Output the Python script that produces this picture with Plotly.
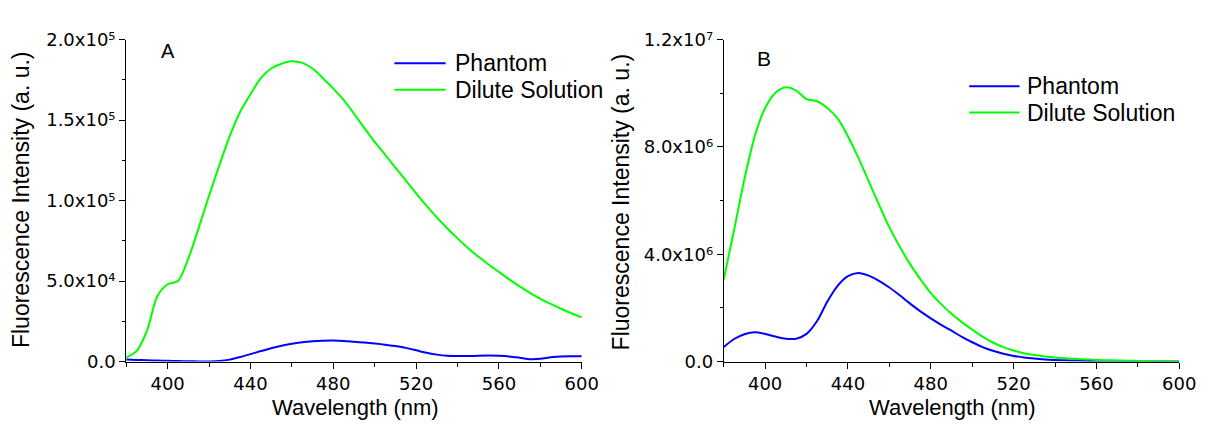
import plotly.graph_objects as go

# Emission wavelength grid (nm)
wavelength = list(range(380, 601, 5))

# Panel A: fluorescence intensity (a. u.)
phantom_a = [1200, 1000, 800, 600, 500, 300, 200, 100, 100, 300,
             1200, 2800, 4600, 6500, 8300, 9800, 11000, 12000, 12600, 12900,
             13000, 12800, 12300, 11800, 11200, 10500, 9600, 8500, 7000, 5400,
             4300, 3600, 3400, 3400, 3600, 3700, 3600, 3200, 2400, 1500,
             1700, 2600, 3200, 3300, 3300]
dilute_a = [2500, 6500, 19000, 40500, 48000, 50000, 64000, 83000, 103000, 122000,
            140000, 155000, 166000, 176000, 182000, 185000, 186500, 185500, 182000, 176000,
            169500, 162500, 154000, 145000, 136500, 128500, 120500, 112500, 104500, 96800,
            89500, 82800, 76500, 70600, 65200, 60300, 55600, 51000, 46700, 42700,
            39000, 35800, 32800, 30000, 27500]

# Panel B: fluorescence intensity (a. u.)
phantom_b = [0.54e6, 0.84e6, 1.02e6, 1.09e6, 1.03e6, 0.93e6, 0.85e6, 0.85e6, 1.03e6, 1.50e6,
             2.23e6, 2.82e6, 3.18e6, 3.30e6, 3.20e6, 3.01e6, 2.76e6, 2.47e6, 2.16e6, 1.87e6,
             1.61e6, 1.37e6, 1.15e6, 0.92e6, 0.72e6, 0.54e6, 0.40e6, 0.29e6, 0.21e6, 0.15e6,
             0.11e6, 0.08e6, 0.06e6, 0.045e6, 0.035e6, 0.025e6, 0.02e6, 0.015e6, 0.012e6, 0.01e6,
             0.008e6, 0.006e6, 0.005e6, 0.004e6, 0.003e6]
dilute_b = [3.06e6, 4.90e6, 6.80e6, 8.40e6, 9.45e6, 10.02e6, 10.22e6, 10.10e6, 9.78e6, 9.70e6,
            9.45e6, 9.06e6, 8.39e6, 7.60e6, 6.72e6, 5.84e6, 5.00e6, 4.28e6, 3.63e6, 3.06e6,
            2.55e6, 2.14e6, 1.78e6, 1.47e6, 1.19e6, 0.93e6, 0.71e6, 0.54e6, 0.41e6, 0.31e6,
            0.24e6, 0.19e6, 0.15e6, 0.12e6, 0.10e6, 0.08e6, 0.06e6, 0.05e6, 0.04e6, 0.03e6,
            0.025e6, 0.02e6, 0.015e6, 0.012e6, 0.01e6]

series_names = ["Phantom", "Dilute Solution"]
series_colors = ["#0000ff", "#00ff00"]

# Axis ticks
x_ticks = [400, 440, 480, 520, 560, 600]
x_ticktext = ["400", "440", "480", "520", "560", "600"]
ya_ticks = [0, 5e4, 1e5, 1.5e5, 2e5]
ya_ticktext = ["0.0", "5.0x10⁴", "1.0x10⁵", "1.5x10⁵", "2.0x10⁵"]
yb_ticks = [0, 4e6, 8e6, 1.2e7]
yb_ticktext = ["0.0", "4.0x10⁶", "8.0x10⁶", "1.2x10⁷"]

W, H = 1215, 431
TICK_FONT = dict(family="DejaVu Sans", size=18, color="black")
TEXT_FONT = "Liberation Sans, Arial, sans-serif"

fig = go.Figure()

for ys, name, color in zip([phantom_a, dilute_a], series_names, series_colors):
    fig.add_trace(go.Scatter(x=wavelength, y=ys, name=name, mode="lines",
                             line=dict(color=color, width=2, shape="spline", smoothing=0.8),
                             xaxis="x", yaxis="y", showlegend=False))
for ys, name, color in zip([phantom_b, dilute_b], series_names, series_colors):
    fig.add_trace(go.Scatter(x=wavelength, y=ys, name=name, mode="lines",
                             line=dict(color=color, width=2, shape="spline", smoothing=0.8),
                             xaxis="x2", yaxis="y2", showlegend=False))


def px_x(p):
    return p / W


def px_y(p):
    return 1 - p / H


y_domain = [px_y(368.5), px_y(30)]

common_x = dict(range=[380, 600], tickmode="array", tickvals=x_ticks, ticktext=x_ticktext,
                ticks="outside", ticklen=6, tickwidth=1, tickcolor="black",
                showline=True, linecolor="black", linewidth=1, showgrid=False,
                zeroline=False, tickfont=TICK_FONT,
                minor=dict(tickmode="linear", tick0=380, dtick=20, ticks="outside",
                           ticklen=4, tickcolor="black", showgrid=False))
common_y = dict(ticks="outside", ticklen=6, tickwidth=1, tickcolor="black",
                showline=True, linecolor="black", linewidth=1, showgrid=False,
                zeroline=False, tickfont=TICK_FONT, tickmode="array")

fig.update_layout(
    width=W, height=H,
    margin=dict(l=0, r=0, t=0, b=0),
    paper_bgcolor="white", plot_bgcolor="white",
    xaxis=dict(domain=[px_x(128), px_x(590)], anchor="y", **common_x),
    yaxis=dict(domain=y_domain, anchor="x", range=[0, 2e5],
               tickvals=ya_ticks, ticktext=ya_ticktext,
               minor=dict(tickmode="linear", tick0=0, dtick=2.5e4, ticks="outside",
                          ticklen=3, tickcolor="black", showgrid=False),
               **common_y),
    xaxis2=dict(domain=[px_x(734), px_x(1196)], anchor="y2", **common_x),
    yaxis2=dict(domain=y_domain, anchor="x2", range=[0, 1.2e7],
                tickvals=yb_ticks, ticktext=yb_ticktext,
                minor=dict(tickmode="linear", tick0=0, dtick=2e6, ticks="outside",
                           ticklen=3, tickcolor="black", showgrid=False),
                **common_y),
    showlegend=False,
)

annotations = []
shapes = []

# Axis titles
for xc in (361, 966):
    annotations.append(dict(text="Wavelength (nm)", x=px_x(xc), y=px_y(417), xref="paper",
                            yref="paper", showarrow=False, xanchor="center", yanchor="middle",
                            font=dict(family=TEXT_FONT, size=22, color="black")))
for xc, yc in ((22, 198), (630, 201)):
    annotations.append(dict(text="Fluorescence Intensity (a. u.)", x=px_x(xc), y=px_y(yc),
                            xref="paper", yref="paper", showarrow=False, textangle=-90,
                            xanchor="center", yanchor="middle",
                            font=dict(family=TEXT_FONT, size=23, color="black")))

# Panel letters
for label, xc, yc, size in (("A", 170, 42, 20), ("B", 775, 50, 21)):
    annotations.append(dict(text=label, x=px_x(xc), y=px_y(yc), xref="paper", yref="paper",
                            showarrow=False, xanchor="center", yanchor="middle",
                            font=dict(family=TEXT_FONT, size=size, color="black")))

# Legends, one per panel
for x0, x1, xt, y0 in ((400, 452, 459, 55), (983, 1034, 1040, 79)):
    for i, (name, color) in enumerate(zip(series_names, series_colors)):
        yy = y0 + i * 27.7
        shapes.append(dict(type="line", xref="paper", yref="paper",
                           x0=px_x(x0), x1=px_x(x1), y0=px_y(yy), y1=px_y(yy),
                           line=dict(color=color, width=2)))
        annotations.append(dict(text=name, x=px_x(xt), y=px_y(yy), xref="paper",
                                yref="paper", showarrow=False, xanchor="left",
                                yanchor="middle",
                                font=dict(family=TEXT_FONT, size=23, color="black")))

fig.update_layout(annotations=annotations, shapes=shapes)

fig.write_html("out.html")
